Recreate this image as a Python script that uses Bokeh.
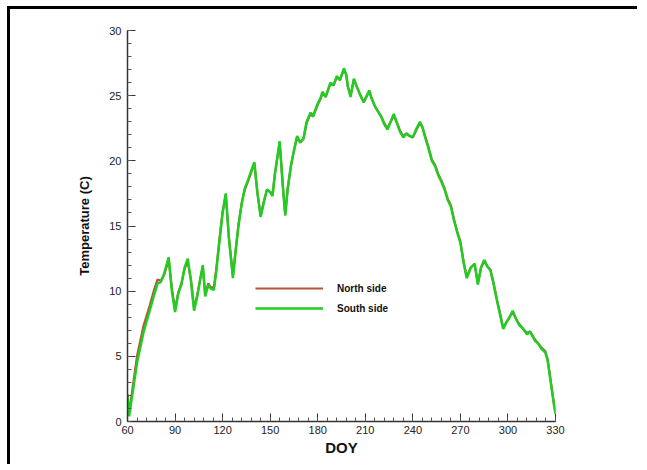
from bokeh.plotting import figure
from bokeh.models import Legend, LegendItem, FixedTicker, Range1d, Div, Spacer
from bokeh.layouts import column, row
from bokeh.embed import file_html
from bokeh.resources import INLINE

# Day of year sampling
doy = [60, 61, 63, 66, 70, 74, 77, 79, 81, 83, 86, 88, 90, 92, 94, 96, 98, 100,
       102, 104, 106, 107.5, 109, 111, 112.5, 114.5, 116, 118, 120, 122, 124,
       126.5, 128, 130, 132, 134, 136, 138, 140, 142, 144, 146, 148, 150, 151.5,
       153, 156, 158, 159.5, 161, 163, 165, 167, 169, 171, 173, 175.5, 177, 180,
       182, 183, 185, 188, 190, 192, 194, 196.5, 198, 199, 200.7, 202.8, 205,
       207, 209, 211, 212.5, 214, 216, 218, 220, 222, 224, 226, 228, 230, 232,
       234, 236, 238, 240, 242, 244.5, 246, 248, 250, 252, 254, 256, 258, 260,
       262, 264, 266, 268, 270, 272, 274, 276.5, 279, 281, 283, 285, 287, 289,
       291, 293, 295, 297, 299, 301, 303, 305, 307, 309, 312, 314, 317, 319,
       321, 323.5, 325, 327, 329, 330]

# South side temperature (C)
south_temp = [2.0, 0.4, 2.0, 4.5, 6.8, 8.5, 9.8, 10.6, 10.7, 11.3, 12.6, 10.0,
              8.4, 9.8, 10.5, 11.8, 12.5, 10.8, 8.5, 9.6, 11.0, 12.0, 9.6, 10.5,
              10.2, 10.1, 11.5, 13.8, 16.0, 17.5, 14.0, 11.0, 12.8, 15.0, 16.7,
              17.9, 18.5, 19.2, 19.9, 17.5, 15.7, 16.8, 17.8, 17.6, 17.3, 19.0,
              21.5, 18.0, 15.8, 17.8, 19.6, 20.8, 21.9, 21.4, 21.7, 23.0, 23.7,
              23.4, 24.4, 24.9, 25.3, 24.9, 26.0, 25.8, 26.5, 26.2, 27.1, 26.6,
              25.7, 24.9, 26.3, 25.6, 25.0, 24.5, 25.0, 25.4, 24.8, 24.2, 23.8,
              23.4, 22.8, 22.4, 23.0, 23.6, 22.9, 22.2, 21.8, 22.1, 21.9, 21.8,
              22.4, 23.0, 22.6, 21.7, 20.9, 20.0, 19.6, 18.9, 18.4, 17.8, 17.0,
              16.5, 15.4, 14.5, 13.7, 12.2, 11.0, 11.8, 12.1, 10.5, 11.8, 12.4,
              11.9, 11.6, 10.5, 9.3, 8.2, 7.1, 7.6, 8.0, 8.5, 7.9, 7.4, 7.2, 6.7,
              6.9, 6.2, 6.0, 5.6, 5.3, 4.7, 3.0, 1.3, 0.6]

# North side temperature (C)
north_temp = [2.1, 0.6, 2.4, 5.0, 7.3, 8.9, 10.2, 10.9, 10.8, 11.2, 12.4, 10.2,
              8.6, 9.9, 10.6, 11.7, 12.3, 10.9, 8.7, 9.7, 11.0, 11.9, 9.8, 10.6,
              10.3, 10.3, 11.7, 14.0, 16.1, 17.4, 14.1, 11.2, 12.9, 15.1, 16.7,
              17.8, 18.4, 19.1, 19.8, 17.5, 15.8, 16.9, 17.8, 17.6, 17.4, 19.0,
              21.4, 18.1, 15.9, 17.8, 19.5, 20.8, 21.8, 21.4, 21.7, 22.9, 23.6,
              23.4, 24.3, 24.8, 25.2, 24.9, 25.9, 25.8, 26.4, 26.2, 27.0, 26.6,
              25.7, 25.0, 26.2, 25.6, 25.0, 24.5, 25.0, 25.3, 24.8, 24.2, 23.8,
              23.4, 22.9, 22.5, 23.0, 23.5, 22.9, 22.3, 21.9, 22.1, 21.9, 21.8,
              22.3, 22.9, 22.6, 21.8, 21.0, 20.1, 19.7, 19.0, 18.5, 17.9, 17.1,
              16.6, 15.5, 14.6, 13.8, 12.3, 11.1, 11.8, 12.1, 10.6, 11.8, 12.3,
              11.9, 11.6, 10.6, 9.4, 8.3, 7.2, 7.6, 8.0, 8.4, 7.9, 7.5, 7.2, 6.8,
              6.9, 6.3, 6.0, 5.7, 5.4, 4.8, 3.1, 1.4, 0.7]

x_ticks = [60, 90, 120, 150, 180, 210, 240, 270, 300, 330]
y_ticks = [0, 5, 10, 15, 20, 25, 30]
x_minor = list(range(60, 331, 6))
y_minor = list(range(0, 31))

FONT = "Liberation Sans"

p = figure(
    frame_width=428, frame_height=391,
    min_border_left=117, min_border_right=80,
    min_border_top=21, min_border_bottom=43,
    x_range=Range1d(60, 330), y_range=Range1d(0, 30),
    output_backend="svg", toolbar_location=None,
    background_fill_color="white", border_fill_color="white",
)
p.outline_line_color = None
p.grid.visible = False

for ax, ticks, minor in ((p.xaxis, x_ticks, x_minor), (p.yaxis, y_ticks, y_minor)):
    ax.ticker = FixedTicker(ticks=ticks, minor_ticks=minor)
    ax.axis_line_color = "#333333"
    ax.axis_line_width = 1.5
    ax.major_tick_in = 8
    ax.major_tick_out = 0
    ax.minor_tick_in = 4
    ax.minor_tick_out = 0
    ax.major_tick_line_color = "#333333"
    ax.minor_tick_line_color = "#555555"
    ax.major_label_text_font = FONT
    ax.major_label_text_font_size = "11px"
    ax.major_label_text_color = "#222222"
    ax.axis_label_text_font = FONT
    ax.axis_label_text_font_style = "bold"
    ax.axis_label_text_color = "#111111"

p.xaxis.axis_label = "DOY"
p.xaxis.axis_label_text_font_size = "15px"
p.xaxis.major_label_standoff = 4
p.xaxis.axis_label_standoff = 2
p.yaxis.axis_label = "Temperature (C)"
p.yaxis.axis_label_text_font_size = "13px"
p.yaxis.major_label_standoff = 6
p.yaxis.axis_label_standoff = 14

north = p.line(doy, north_temp, line_color="#b4553a", line_width=2.2)
south = p.line(doy, south_temp, line_color="#22cc22", line_width=2.5)

legend = Legend(
    items=[LegendItem(label="North side", renderers=[north]),
           LegendItem(label="South side", renderers=[south])],
    location=(128, 103),
    glyph_width=68, glyph_height=20, spacing=0, padding=0, margin=0,
    label_standoff=14, label_height=20,
    label_text_font=FONT, label_text_font_size="10px",
    label_text_font_style="bold", label_text_color="#111111",
    border_line_color=None, background_fill_alpha=0,
)
p.add_layout(legend)

# black rules along the top and left of the panel
top_rule = Div(text="", width=630, height=3, margin=0,
               styles={"background-color": "black"})
left_rule = Div(text="", width=3, height=455, margin=0,
                styles={"background-color": "black"})

page = column(
    Spacer(width=10, height=6, margin=0),
    row(Spacer(width=7, height=3, margin=0), top_rule, spacing=0),
    row(Spacer(width=7, height=10, margin=0), left_rule, p, spacing=0),
    spacing=0,
)

open("out.html", "w").write(file_html(page, INLINE))
